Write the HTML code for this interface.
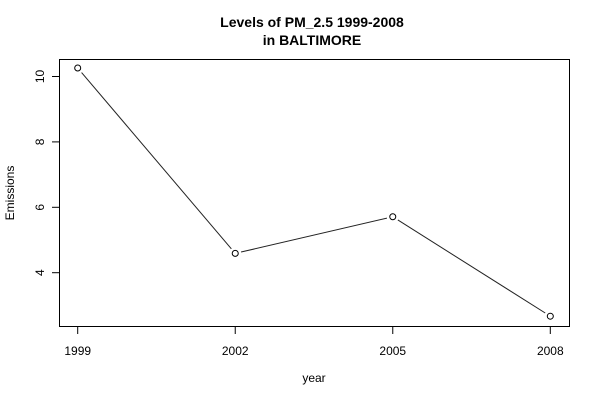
<!DOCTYPE html>
<html><head><meta charset="utf-8"><style>
body{margin:0;background:#fff}
svg{display:block;font-family:"Liberation Sans",Arial,sans-serif}
</style></head><body>
<svg id="chart" width="600" height="400">
<rect x="0" y="0" width="600" height="400" fill="#fff"/>
<text x="312" y="27" text-anchor="middle" font-weight="bold" font-size="14"><tspan x="312" y="27">Levels of PM_2.5 1999-2008</tspan><tspan x="312" y="45">in BALTIMORE</tspan></text>
<rect x="59.5" y="59.5" width="510" height="267" fill="none" stroke="#000" stroke-width="1"/>
<text x="314" y="382" text-anchor="middle" font-size="12">year</text>
<text transform="translate(14,193) rotate(-90)" text-anchor="middle" font-size="12">Emissions</text>
<g id="xaxis"></g><g id="yaxis"></g><g id="series"></g>
</svg>
<script>
const years=[1999,2002,2005,2008];
const emissions=[10.26,4.59,5.71,2.67];
const yTicks=[4,6,8,10];
const NS="http://www.w3.org/2000/svg";
const x=v=>77.7+(v-1999)*(550.3-77.7)/9;
const y=v=>272.7-(v-4)*32.7;
function mk(t,a,p){const e=document.createElementNS(NS,t);for(const k in a)e.setAttribute(k,a[k]);p.appendChild(e);return e;}
const xa=document.getElementById('xaxis'),ya=document.getElementById('yaxis'),s=document.getElementById('series');
mk('line',{x1:x(years[0]),x2:x(years[years.length-1]),y1:326.5,y2:326.5,stroke:'#000'},xa);
years.forEach(v=>{
 const l=mk('line',{x1:x(v),x2:x(v),y1:326.5,y2:334,stroke:'#000'},xa);
 
 
 const t=mk('text',{x:x(v),y:355,'text-anchor':'middle','font-size':12},xa);t.textContent=v;
 
 
});
mk('line',{x1:59.5,x2:59.5,y1:y(yTicks[0]),y2:y(yTicks[yTicks.length-1]),stroke:'#000'},ya);
yTicks.forEach(v=>{
 const l=mk('line',{x1:52,x2:59.5,y1:y(v),y2:y(v),stroke:'#000'},ya);
 
 
 const t=mk('text',{transform:`translate(44,${y(v)}) rotate(-90)`,'text-anchor':'middle','font-size':12},ya);t.textContent=v;
 
 
});
for(let i=0;i<years.length-1;i++){
 const x1=x(years[i]),y1=y(emissions[i]),x2=x(years[i+1]),y2=y(emissions[i+1]);
 const dx=x2-x1,dy=y2-y1,d=Math.hypot(dx,dy),r=6;
 const l=mk('line',{x1:x1+dx/d*r,y1:y1+dy/d*r,x2:x2-dx/d*r,y2:y2-dy/d*r,stroke:'#222','stroke-width':1},s);
 
 
}
years.forEach((v,i)=>{
 const c=mk('circle',{cx:x(v),cy:y(emissions[i]),r:3,fill:'none',stroke:'#000','stroke-width':1},s);
 
 
});
</script>
</body></html>
